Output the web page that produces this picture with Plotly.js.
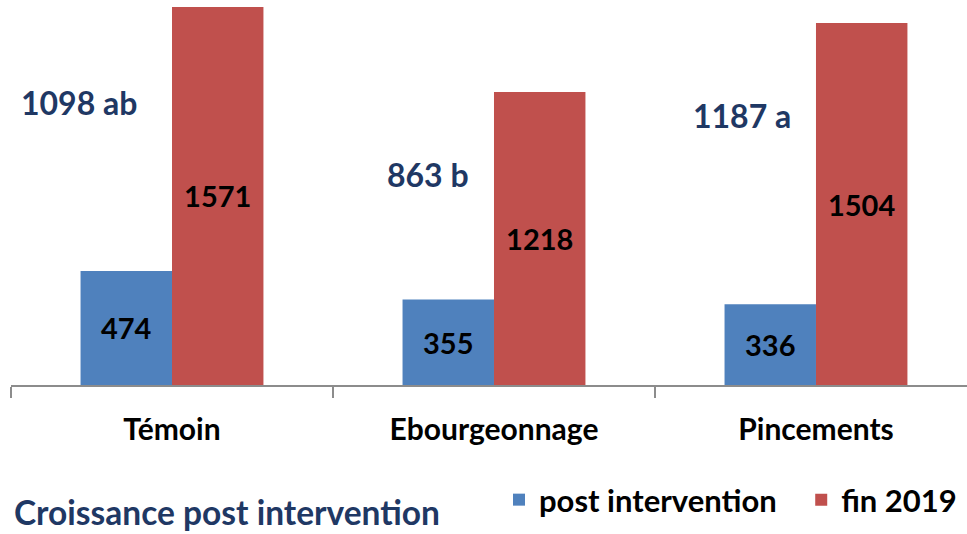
<!DOCTYPE html>
<html><head><meta charset="utf-8">
<script src="https://cdn.plot.ly/plotly-3.0.1.min.js"></script>
<style>html,body{margin:0;padding:0;background:#fff}</style>
</head><body>
<div id="chart" style="width:967px;height:534px"></div>
<script>
const categories = ["Témoin", "Ebourgeonnage", "Pincements"];
const postIntervention = [474, 355, 336];
const fin2019 = [1571, 1218, 1504];
const seriesNames = ["post intervention", "fin 2019"];
const growthLabels = ["1098 ab", "863 b", "1187 a"];
const chartTitle = "Croissance post intervention";

const FONT = "Lato, 'Open Sans', sans-serif";
const barText = {family:FONT, size:29, color:'#000', weight:'bold'};
const traces = [
  {type:'bar', name:seriesNames[0], x:categories, y:postIntervention, legend:'legend',
   marker:{color:'#4f81bd'}, text:postIntervention.map(String),
   textposition:'inside', insidetextanchor:'middle', constraintext:'none',
   textfont:barText, hoverinfo:'none'},
  {type:'bar', name:seriesNames[1], x:categories, y:fin2019, legend:'legend2',
   marker:{color:'#c0504d'}, text:fin2019.map(String),
   textposition:'inside', insidetextanchor:'middle', constraintext:'none',
   textfont:barText, hoverinfo:'none'}
];
const annPos = [[-0.289, 1176], [0.795, 873], [1.77, 1122]];
const annotations = growthLabels.map((t,i)=>({
  x: annPos[i][0], y: annPos[i][1], xref:'x', yref:'y', text:t, showarrow:false,
  font:{family:FONT, size:32, color:'#1f3864', weight:'bold'}
}));
annotations.push({x:(12-11)/956, y:(385-512)/385, xref:'paper', yref:'paper', text:chartTitle,
  showarrow:false, xanchor:'left', yanchor:'middle',
  font:{family:FONT, size:33.5, color:'#1f3864', weight:'bold'}});

const legFont = {family:FONT, size:31, color:'#000', weight:'bold'};
const layout = {
  width:967, height:534,
  margin:{l:11, r:0, t:0, b:149},
  paper_bgcolor:'#fff', plot_bgcolor:'#fff',
  barmode:'group', bargap:0.432, bargroupgap:0,
  showlegend:true,
  legend:{orientation:'h', x:(782-11)/956, xanchor:'right', y:(385-500)/385, yanchor:'middle',
    font:legFont, itemwidth:30},
  legend2:{orientation:'h', x:0.995, xanchor:'right', y:(385-500)/385, yanchor:'middle',
    font:legFont, itemwidth:30},
  xaxis:{range:[-0.5, 2.469], showline:true, linecolor:'#8c8c8c', linewidth:1.5,
    ticks:'outside', tickson:'boundaries', ticklen:11, tickcolor:'#8c8c8c', tickwidth:1.5,
    ticklabelstandoff:17,
    tickfont:{family:FONT, size:30, color:'#000', weight:'bold'}, showgrid:false, fixedrange:true},
  yaxis:{range:[0,1600], visible:false, showgrid:false, zeroline:false, fixedrange:true},
  annotations:annotations
};
Plotly.newPlot('chart', traces, layout, {displayModeBar:false, staticPlot:true});
</script>
</body></html>
